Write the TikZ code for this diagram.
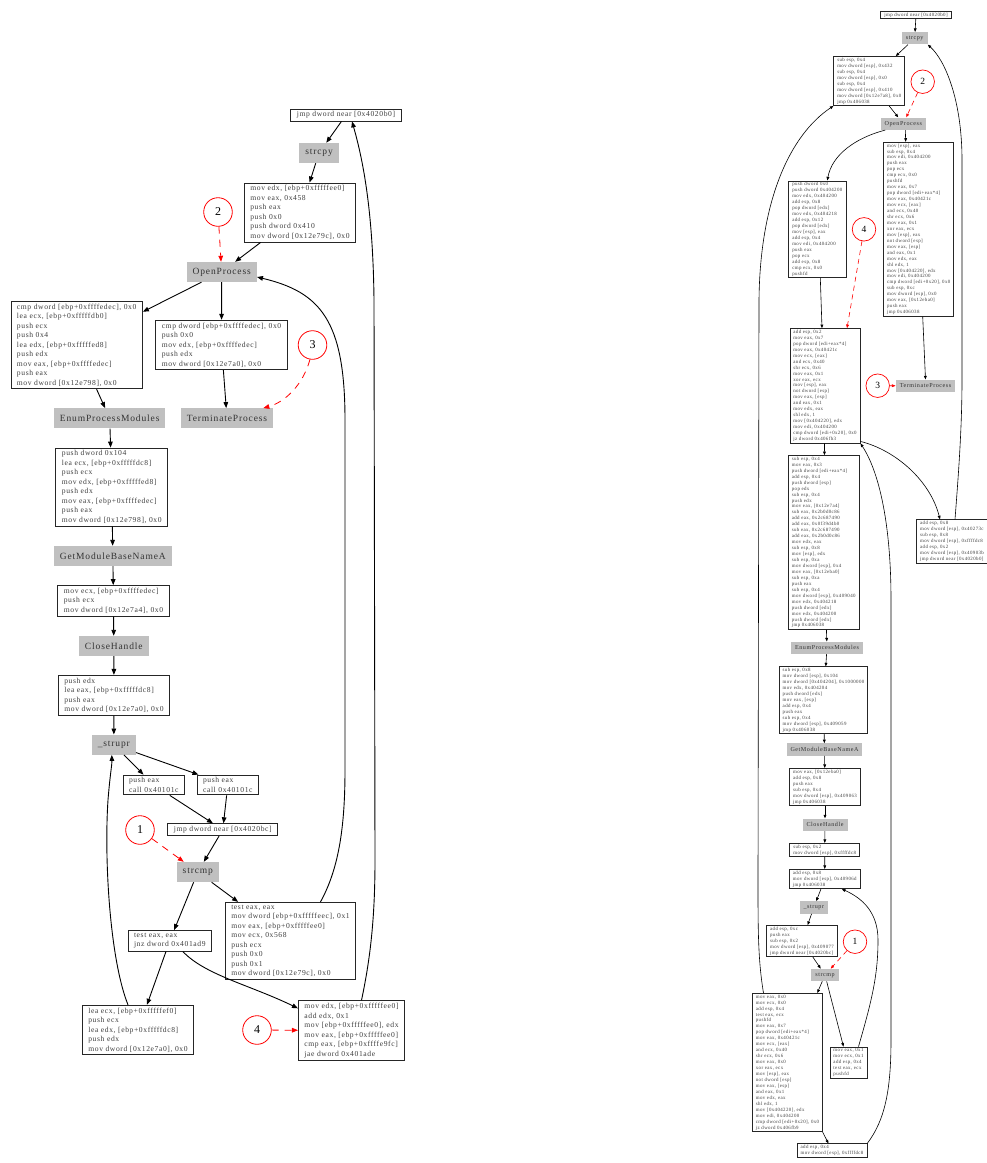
\documentclass[tikz,border=0pt]{standalone}
\usepackage{fontspec}
\usetikzlibrary{arrows.meta}
\newfontfamily\codefam[LetterSpace=8]{Liberation Serif}
\newfontfamily\apifam[LetterSpace=9]{Liberation Serif}
\newfontfamily\numfam{Liberation Serif}
\definecolor{apigray}{RGB}{192,192,192}
\tikzset{
  code/.style={draw=black!85, line width=0.9pt, fill=white, align=left, inner xsep=6pt, inner ysep=2.5pt, text=black!75, font=\codefam\fontsize{7.6}{9.5}\selectfont},
  api/.style={fill=apigray, inner xsep=6pt, inner ysep=0pt, minimum height=20pt, text=black!80, font=\apifam\fontsize{9.5}{11}\selectfont},
  rcode/.style={draw=black!85, line width=0.7pt, fill=white, align=left, inner xsep=3.5pt, inner ysep=1.5pt, text=black!75, font=\codefam\fontsize{4.9}{5.95}\selectfont},
  rapi/.style={fill=apigray, inner xsep=4pt, inner ysep=0pt, minimum height=12.3pt, text=black!80, font=\apifam\fontsize{6.1}{7}\selectfont},
  note/.style={circle, draw=red, line width=0.8pt, minimum size=28.6pt, inner sep=0pt, font=\numfam\fontsize{12}{14}\selectfont},
  rnote/.style={circle, draw=red, line width=0.7pt, minimum size=23.5pt, inner sep=0pt, font=\numfam\fontsize{9.5}{11}\selectfont},
  edge/.style={draw=black, line width=0.9pt, -{Triangle[length=6pt,width=4.6pt]}},
  redge/.style={draw=black, line width=0.6pt, -{Triangle[length=3.6pt,width=2.8pt]}},
  hint/.style={draw=red, line width=0.8pt, dash pattern=on 7pt off 6pt, -{Triangle[length=6pt,width=4.6pt]}},
  rhint/.style={draw=red, line width=0.6pt, dash pattern=on 5pt off 4pt, -{Triangle[length=3.6pt,width=2.8pt]}}
}
\begin{document}
\begin{tikzpicture}[x=1pt,y=-1pt]
\useasboundingbox[fill=white] (0,0) rectangle (987,1163);
% ---------------- left graph ----------------
\node[code] (jmpA) at (346,115) {jmp dword near [0x4020b0]};
\node[api] (strcpyA) at (319,153) {strcpy};
\node[code] (setA) at (300,212.5) {mov edx, [ebp+0xfffffee0]\\mov eax, 0x458\\push eax\\push 0x0\\push dword 0x410\\mov dword [0x12e79c], 0x0};
\node[api] (openA) at (221.7,272) {OpenProcess};
\node[code] (bA) at (76.7,345) {cmp dword [ebp+0xffffedec], 0x0\\lea ecx, [ebp+0xfffffdb0]\\push ecx\\push 0x4\\lea edx, [ebp+0xfffffed8]\\push edx\\mov eax, [ebp+0xffffedec]\\push eax\\mov dword [0x12e798], 0x0};
\node[code] (cA) at (221.5,345) {cmp dword [ebp+0xffffedec], 0x0\\push 0x0\\mov edx, [ebp+0xffffedec]\\push edx\\mov dword [0x12e7a0], 0x0};
\node[api] (termA) at (227,418.3) {TerminateProcess};
\node[api] (epmA) at (109.7,418.3) {EnumProcessModules};
\node[code] (dA) at (111.8,487) {push dword 0x104\\lea ecx, [ebp+0xfffffdc8]\\push ecx\\mov edx, [ebp+0xfffffed8]\\push edx\\mov eax, [ebp+0xffffedec]\\push eax\\mov dword [0x12e798], 0x0};
\node[api] (gmbA) at (112.8,556) {GetModuleBaseNameA};
\node[code] (eA) at (113.5,600.8) {mov ecx, [ebp+0xffffedec]\\push ecx\\mov dword [0x12e7a4], 0x0};
\node[api] (chA) at (113.8,646) {CloseHandle};
\node[code] (fA) at (114,695.3) {push edx\\lea eax, [ebp+0xfffffdc8]\\push eax\\mov dword [0x12e7a0], 0x0};
\node[api] (struprA) at (113.8,744.7) {\_strupr};
\node[code] (g1A) at (153.8,785) {push eax\\call 0x40101c};
\node[code] (g2A) at (227.8,785) {push eax\\call 0x40101c};
\node[code] (jmpB) at (222.8,829.7) {jmp dword near [0x4020bc]};
\node[api] (strcmpA) at (197.8,872) {strcmp};
\node[code] (hA) at (169.8,940.8) {test eax, eax\\jnz dword 0x401ad9};
\node[code] (iA) at (290.5,940.8) {test eax, eax\\mov dword [ebp+0xfffffeec], 0x1\\mov eax, [ebp+0xfffffee0]\\mov ecx, 0x568\\push ecx\\push 0x0\\push 0x1\\mov dword [0x12e79c], 0x0};
\node[code] (jA) at (138,1030) {lea ecx, [ebp+0xfffffef0]\\push ecx\\lea edx, [ebp+0xfffffdc8]\\push edx\\mov dword [0x12e7a0], 0x0};
\node[code] (kA) at (351.5,1030.5) {mov edx, [ebp+0xfffffee0]\\add edx, 0x1\\mov [ebp+0xfffffee0], edx\\mov eax, [ebp+0xfffffee0]\\cmp eax, [ebp+0xffffe9fc]\\jae dword 0x401ade};
\node[note] (n1) at (140,830) {1};
\node[note] (n2) at (218,212) {2};
\node[note] (n3) at (312.5,345) {3};
\node[note] (n4) at (257,1030) {4};

\draw[edge] (jmpA) -- (strcpyA);
\draw[edge] (strcpyA) -- (setA);
\draw[edge] (setA) -- (openA);
\draw[edge] (openA) -- (bA);
\draw[edge] (openA) -- (cA);
\draw[edge] (cA) -- (termA);
\draw[edge] (bA) -- (epmA);
\draw[edge] (epmA) -- (dA);
\draw[edge] (dA) -- (gmbA);
\draw[edge] (gmbA) -- (eA);
\draw[edge] (eA) -- (chA);
\draw[edge] (chA) -- (fA);
\draw[edge] (fA) -- (struprA);
\draw[edge] (struprA) -- (g1A);
\draw[edge] (struprA) -- (g2A);
\draw[edge] (g1A) -- (jmpB);
\draw[edge] (g2A) -- (jmpB);
\draw[edge] (jmpB) -- (strcmpA);
\draw[edge] (strcmpA) -- (hA);
\draw[edge] (strcmpA) -- (iA);
\draw[edge] (hA) -- (jA);
\draw[edge] ([xshift=13pt]hA.south) .. controls (205,975) and (250,985) .. ([yshift=-8pt]kA.north west);
\draw[edge] ([xshift=30pt]iA.north) .. controls (338,870) and (345,830) .. (345,770) -- (345,420) .. controls (345,320) and (320,292) .. ([yshift=-5pt]openA.east);
\draw[edge] ([xshift=-10pt]jA.north) .. controls (110,960) and (104,860) .. (108,800) .. controls (110,775) and (112,765) .. ([xshift=-2pt]struprA.south);
\draw[edge] ([xshift=10pt]kA.north) .. controls (370,960) and (375,920) .. (375,860) -- (374,300) .. controls (373,210) and (363,160) .. ([xshift=6pt]jmpA.south);
\draw[hint] (n2) -- (openA);
\draw[hint] (n3.-100) .. controls (303,385) and (285,402) .. ([xshift=-10pt]termA.north east);
\draw[hint] (n1) -- (strcmpA);
\draw[hint] (n4) -- (kA);

% ---------------- right graph ----------------
\node[rcode] (r1) at (916,15) {jmp dword near [0x4020b0]};
\node[rapi] (r2) at (914.7,38.3) {strcpy};
\node[rcode] (r3) at (869.3,81) {sub esp, 0x4\\mov dword [esp], 0x432\\sub esp, 0x4\\mov dword [esp], 0x0\\sub esp, 0x4\\mov dword [esp], 0x410\\mov dword [0x12e7a8], 0x0\\jmp 0x406038};
\node[rapi] (r4) at (903.3,123.7) {OpenProcess};
\node[rcode] (r5) at (817.3,229.2) {push dword 0x0\\push dword 0x404200\\mov edx, 0x404200\\add esp, 0x8\\pop dword [edx]\\mov edx, 0x404218\\add esp, 0x12\\pop dword [edx]\\mov [esp], eax\\add esp, 0x4\\mov edi, 0x404200\\push eax\\pop ecx\\add esp, 0x8\\cmp ecx, 0x0\\pushfd};
\node[rcode] (r6) at (918.7,229.2) {mov [esp], eax\\sub esp, 0x4\\mov edi, 0x404200\\push eax\\pop ecx\\cmp ecx, 0x0\\pushfd\\mov eax, 0x7\\pop dword [edi+eax*4]\\mov eax, 0x40421c\\mov ecx, [eax]\\and ecx, 0x40\\shr ecx, 0x6\\mov eax, 0x1\\xor eax, ecx\\mov [esp], eax\\not dword [esp]\\mov eax, [esp]\\and eax, 0x1\\mov edx, eax\\shl edx, 1\\mov [0x404220], edx\\mov edi, 0x404200\\cmp dword [edi+0x20], 0x0\\sub esp, 0xc\\mov dword [esp], 0x0\\mov eax, [0x12eba0]\\push eax\\jmp 0x406038};
\node[rcode] (r7) at (825,385.8) {add esp, 0x2\\mov eax, 0x7\\pop dword [edi+eax*4]\\mov eax, 0x40421c\\mov ecx, [eax]\\and ecx, 0x40\\shr ecx, 0x6\\mov eax, 0x1\\xor eax, ecx\\mov [esp], eax\\not dword [esp]\\mov eax, [esp]\\and eax, 0x1\\mov edx, eax\\shl edx, 1\\mov [0x404220], edx\\mov edi, 0x404200\\cmp dword [edi+0x20], 0x0\\jz dword 0x406fb3};
\node[rapi] (r8) at (925.5,385.8) {TerminateProcess};
\node[rcode] (r9) at (823.7,542.5) {sub esp, 0x4\\mov eax, 0x3\\push dword [edi+eax*4]\\add esp, 0x4\\push dword [esp]\\pop edx\\sub esp, 0x4\\push edx\\mov eax, [0x12e7a4]\\sub eax, 0x2b0d0c86\\add eax, 0x2c687490\\add eax, 0x0f39d4b0\\sub eax, 0x2c687490\\add eax, 0x2b0d0c86\\mov edx, eax\\sub esp, 0x8\\mov [esp], edx\\sub esp, 0xa\\mov dword [esp], 0x4\\mov eax, [0x12eba0]\\sub esp, 0xa\\push eax\\sub esp, 0x4\\mov dword [esp], 0x409040\\mov edx, 0x404218\\push dword [edx]\\mov edx, 0x404200\\push dword [edx]\\jmp 0x406038};
\node[rcode] (r10) at (952,541.3) {add esp, 0x8\\mov dword [esp], 0x40273c\\sub esp, 0x8\\mov dword [esp], 0xffffdc8\\add esp, 0x2\\mov dword [esp], 0x40903b\\jmp dword near [0x4020b0]};
\node[rapi] (r11) at (827,647.8) {EnumProcessModules};
\node[rcode] (r12) at (823.5,700.3) {sub esp, 0x8\\mov dword [esp], 0x104\\mov dword [0x404204], 0x1000000\\mov edx, 0x404204\\push dword [edx]\\mov eax, [esp]\\add esp, 0x4\\push eax\\sub esp, 0x4\\mov dword [esp], 0x409059\\jmp 0x406038};
\node[rapi] (r13) at (824.5,749.5) {GetModuleBaseNameA};
\node[rcode] (r14) at (825,787) {mov eax, [0x12eba0]\\add esp, 0x8\\push eax\\sub esp, 0x4\\mov dword [esp], 0x409063\\jmp 0x406038};
\node[rapi] (r15) at (825,824.7) {CloseHandle};
\node[rcode] (r16) at (824.7,850) {sub esp, 0x2\\mov dword [esp], 0xffffdc8};
\node[rcode] (r17) at (824.8,879) {add esp, 0x8\\mov dword [esp], 0x40906d\\jmp 0x406038};
\node[rapi] (r18) at (813.8,907.5) {\_strupr};
\node[rcode] (r19) at (802,941) {add esp, 0xc\\push eax\\sub esp, 0x2\\mov dword [esp], 0x409077\\jmp dword near [0x4020bc]};
\node[rapi] (r20) at (825,975) {strcmp};
\node[rcode] (r21) at (787.5,1062.5) {mov eax, 0x0\\mov ecx, 0x0\\add esp, 0x4\\test eax, ecx\\pushfd\\mov eax, 0x7\\pop dword [edi+eax*4]\\mov eax, 0x40421c\\mov ecx, [eax]\\and ecx, 0x40\\shr ecx, 0x6\\mov eax, 0x0\\xor eax, ecx\\mov [esp], eax\\not dword [esp]\\mov eax, [esp]\\and eax, 0x1\\mov edx, eax\\shl edx, 1\\mov [0x404220], edx\\mov edi, 0x404200\\cmp dword [edi+0x20], 0x0\\jz dword 0x406fb9};
\node[rcode] (r22) at (848.5,1062.5) {mov eax, 0x1\\mov ecx, 0x1\\add esp, 0x4\\test eax, ecx\\pushfd};
\node[rcode] (r23) at (832,1150.5) {add esp, 0x4\\mov dword [esp], 0xffffdc8};
\node[rnote] (m1) at (855,941.7) {1};
\node[rnote] (m2) at (922.7,81.7) {2};
\node[rnote] (m3) at (877.7,385.7) {3};
\node[rnote] (m4) at (864,229.3) {4};

\draw[redge] (r1) -- (r2);
\draw[redge] (r2) -- (r3);
\draw[redge] (r3) -- (r4);
\draw[redge] ([xshift=-18pt]r4.south) .. controls (855,138) and (832,155) .. ([xshift=10pt]r5.north);
\draw[redge] ([xshift=2pt]r4.south) -- ([xshift=-13pt]r6.north);
\draw[redge] ([xshift=3pt]r5.south) -- ([xshift=-3pt]r7.north);
\draw[redge] ([xshift=4pt]r6.south) -- (r8.north);
\draw[redge] (r7) -- (r9);
\draw[redge] ([yshift=2pt]r7.south east) .. controls (895,450) and (930,480) .. ([xshift=-12pt]r10.north);
\draw[redge] ([xshift=3pt]r10.north) .. controls (958,480) and (962,430) .. (962,380) -- (962,160) .. controls (962,100) and (945,60) .. (r2.south east);
\draw[redge] (r9) -- (r11);
\draw[redge] (r11) -- (r12);
\draw[redge] (r12) -- (r13);
\draw[redge] (r13) -- (r14);
\draw[redge] (r14) -- (r15);
\draw[redge] (r15) -- (r16);
\draw[redge] (r16) -- (r17);
\draw[redge] (r17) -- (r18);
\draw[redge] (r18) -- (r19);
\draw[redge] (r19) -- (r20);
\draw[redge] (r20) -- (r21);
\draw[redge] (r20) -- ([xshift=-5pt]r22.north);
\draw[redge] (r21) -- (r23);
\draw[redge] ([xshift=10pt]r22.north) .. controls (872,1000) and (878,975) .. (878,940) .. controls (878,912) and (862,898) .. ([xshift=17pt]r17.south);
\draw[redge] (r23.north east) .. controls (885,1120) and (891,1090) .. (891,1040) -- (891,600) .. controls (891,520) and (878,470) .. (r7.south east);
\draw[redge] ([xshift=-24pt]r21.north) .. controls (758,960) and (758,930) .. (758,880) -- (759,300) .. controls (760,200) and (790,135) .. (r3.south west);
\draw[rhint] (m2) -- (r4);
\draw[rhint] (m4) -- ([xshift=22pt]r7.north);
\draw[rhint] (m3) -- (r8);
\draw[rhint] (m1) -- (r20);
\end{tikzpicture}
\end{document}
